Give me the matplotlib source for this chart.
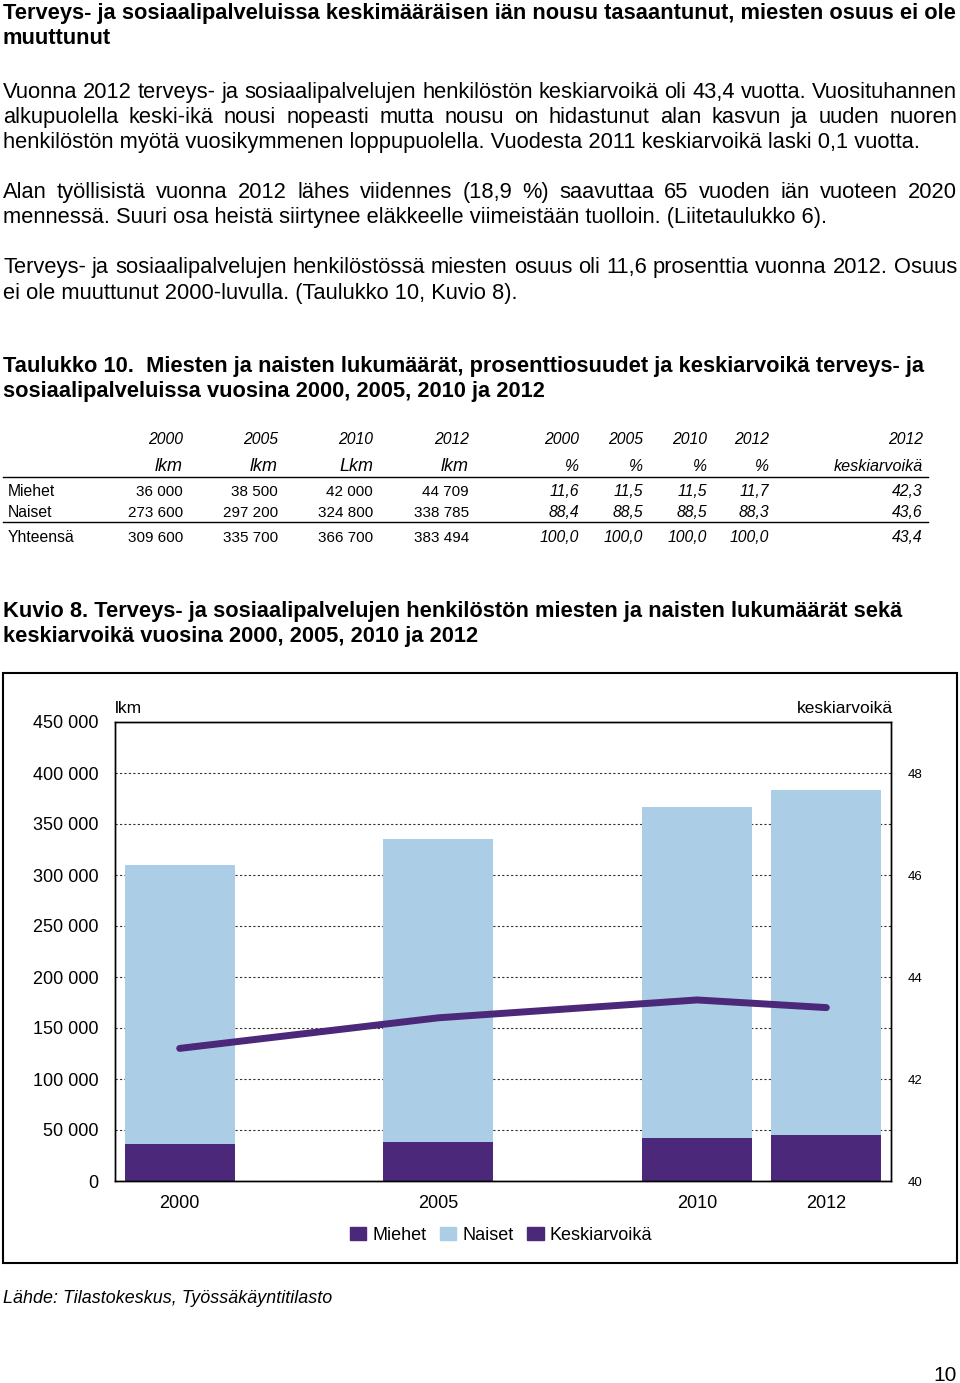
import matplotlib
matplotlib.use('Agg')
import matplotlib.pyplot as plt
import numpy as np
from matplotlib.patches import Patch, Rectangle
from matplotlib.lines import Line2D
from matplotlib.ticker import FuncFormatter

# ---------------- data ----------------
title_lines = ["Terveys- ja sosiaalipalveluissa keskimääräisen iän nousu tasaantunut, miesten osuus ei ole",
               "muuttunut"]
para1 = ["Vuonna 2012 terveys- ja sosiaalipalvelujen henkilöstön keskiarvoikä oli 43,4 vuotta. Vuosituhannen",
         "alkupuolella keski-ikä nousi nopeasti mutta nousu on hidastunut alan kasvun ja uuden nuoren",
         "henkilöstön myötä vuosikymmenen loppupuolella. Vuodesta 2011 keskiarvoikä laski 0,1 vuotta."]
para2 = ["Alan työllisistä vuonna 2012 lähes viidennes (18,9 %) saavuttaa 65 vuoden iän vuoteen 2020",
         "mennessä. Suuri osa heistä siirtynee eläkkeelle viimeistään tuolloin. (Liitetaulukko 6)."]
para3 = ["Terveys- ja sosiaalipalvelujen henkilöstössä miesten osuus oli 11,6 prosenttia vuonna 2012. Osuus",
         "ei ole muuttunut 2000-luvulla. (Taulukko 10, Kuvio 8)."]
table_title = ["Taulukko 10.  Miesten ja naisten lukumäärät, prosenttiosuudet ja keskiarvoikä terveys- ja",
               "sosiaalipalveluissa vuosina 2000, 2005, 2010 ja 2012"]
figure_title = ["Kuvio 8. Terveys- ja sosiaalipalvelujen henkilöstön miesten ja naisten lukumäärät sekä",
                "keskiarvoikä vuosina 2000, 2005, 2010 ja 2012"]
source_text = "Lähde: Tilastokeskus, Työssäkäyntitilasto"
page_number = "10"

table_years = ['2000', '2005', '2010', '2012']
lkm_units = ['lkm', 'lkm', 'Lkm', 'lkm']
row_labels = ['Miehet', 'Naiset', 'Yhteensä']
lkm_values = [[36000, 38500, 42000, 44709],
              [273600, 297200, 324800, 338785],
              [309600, 335700, 366700, 383494]]
pct_values = [[11.6, 11.5, 11.5, 11.7],
              [88.4, 88.5, 88.5, 88.3],
              [100.0, 100.0, 100.0, 100.0]]
age_year = '2012'
age_unit = 'keskiarvoikä'
age_2012 = [42.3, 43.6, 43.4]

# chart (category axis with empty slots, as in the original)
chart_categories = ['2000', '', '2005', '', '2010', '2012']
chart_men = [36000, None, 38500, None, 42000, 44709]
chart_women = [273600, None, 297200, None, 324800, 338785]
chart_age = [42.6, None, 43.2, None, 43.55, 43.4]
series_names = ['Miehet', 'Naiset', 'Keskiarvoikä']

# ---------------- setup ----------------
W, H = 960, 1383
plt.rcParams['font.family'] = ['Liberation Sans', 'DejaVu Sans']
fig = plt.figure(figsize=(W / 100, H / 100), dpi=100)
renderer = fig.canvas.get_renderer()

def fx(x): return x / W
def fy(y): return 1 - y / H

def put(x, y, s, ha='left', **kw):
    return fig.text(fx(x), fy(y), s, ha=ha, va='baseline', **kw)

def justify(x0, x1, y, s, **kw):
    words = s.split(' ')
    widths = []
    for w in words:
        t = fig.text(0, 0, w, **kw)
        widths.append(t.get_window_extent(renderer=renderer).width)
        t.remove()
    gap = (x1 - x0 - sum(widths)) / (len(words) - 1)
    x = x0
    for w, wd in zip(words, widths):
        put(x, y, w, **kw)
        x += wd + gap

def fmt_int(v):
    return f"{v:,}".replace(',', ' ')

def fmt_dec(v):
    return f"{v:.1f}".replace('.', ',')

BODY = 15.75
HEAD = 15.75
# titles
put(3, 19, title_lines[0], fontsize=HEAD, fontweight='bold')
put(3, 44, title_lines[1], fontsize=HEAD, fontweight='bold')
# paragraph 1
justify(3, 957, 98, para1[0], fontsize=BODY)
justify(3, 957, 123, para1[1], fontsize=BODY)
put(3, 148, para1[2], fontsize=BODY)
# paragraph 2
justify(3, 957, 198, para2[0], fontsize=BODY)
put(3, 223, para2[1], fontsize=BODY)
# paragraph 3
justify(3, 957, 273, para3[0], fontsize=BODY)
put(3, 299, para3[1], fontsize=BODY)
# table title
put(3, 372, table_title[0], fontsize=HEAD, fontweight='bold')
put(3, 397, table_title[1], fontsize=HEAD, fontweight='bold')

# ---------------- table ----------------
TF = 11
lkm_x = [183, 278, 373, 469]
pct_x = [579, 643, 707, 769]
age_x = 923
for i in range(4):
    put(lkm_x[i], 444, table_years[i], ha='right', fontsize=11.3, style='italic')
    put(lkm_x[i], 471, lkm_units[i], ha='right', fontsize=13, style='italic')
    put(pct_x[i], 444, table_years[i], ha='right', fontsize=11.3, style='italic')
    put(pct_x[i], 471, '%', ha='right', fontsize=11.3, style='italic')
put(age_x, 444, age_year, ha='right', fontsize=11.3, style='italic')
put(age_x, 471, age_unit, ha='right', fontsize=11.6, style='italic')

row_y = [496, 517, 542]
for r in range(3):
    put(8, row_y[r], row_labels[r], fontsize=11.3)
    for i in range(4):
        put(lkm_x[i], row_y[r], fmt_int(lkm_values[r][i]), ha='right', fontsize=TF)
        put(pct_x[i], row_y[r], fmt_dec(pct_values[r][i]), ha='right', fontsize=11.3, style='italic')
    put(age_x, row_y[r], fmt_dec(age_2012[r]), ha='right', fontsize=11.3, style='italic')

for yy in (477, 522):
    fig.add_artist(Line2D([fx(3), fx(928)], [fy(yy), fy(yy)], transform=fig.transFigure,
                          color='black', lw=1.0))

# figure title
put(3, 617, figure_title[0], fontsize=HEAD, fontweight='bold')
put(3, 642, figure_title[1], fontsize=HEAD, fontweight='bold')

# ---------------- chart ----------------
fig.add_artist(Rectangle((fx(3), fy(1263)), fx(957) - fx(3), fy(673) - fy(1263),
                         transform=fig.transFigure, fill=False, ec='black', lw=1.5))

MEN_C = '#4b2879'
WOMEN_C = '#abcde6'
LINE_C = '#4b2879'

ax = fig.add_axes([fx(115), fy(1181), (891 - 115) / W, (1181 - 722) / H])
bar_idx = [i for i, v in enumerate(chart_men) if v is not None]
men = np.array([chart_men[i] for i in bar_idx], dtype=float)
women = np.array([chart_women[i] for i in bar_idx], dtype=float)
ax.bar(bar_idx, men, width=0.85, color=MEN_C, zorder=2)
ax.bar(bar_idx, women, bottom=men, width=0.85, color=WOMEN_C, zorder=2)
ax.set_xlim(-0.5, len(chart_categories) - 0.5)
ax.set_ylim(0, 450000)
ax.set_yticks(np.arange(0, 450001, 50000))
ax.yaxis.set_major_formatter(FuncFormatter(lambda v, p: fmt_int(int(v))))
ax.set_xticks(bar_idx)
ax.set_xticklabels([chart_categories[i] for i in bar_idx])
ax.tick_params(axis='both', length=0, labelsize=13)
ax.tick_params(axis='y', pad=12)
ax.tick_params(axis='x', pad=10)
ax.yaxis.grid(True, linestyle=(0, (2, 2)), color='#333333', lw=0.8)
ax.set_axisbelow(True)
for sp in ax.spines.values():
    sp.set_color('black')
    sp.set_linewidth(1.0)

ax2 = ax.twinx()
age_idx = [i for i, v in enumerate(chart_age) if v is not None]
ax2.plot(age_idx, [chart_age[i] for i in age_idx], color=LINE_C, lw=5,
         solid_capstyle='round', solid_joinstyle='round', zorder=3)
ax2.set_ylim(40, 49)
ax2.set_yticks([40, 42, 44, 46, 48])
ax2.tick_params(axis='y', length=0, labelsize=9.5, pad=12)
for sp in ax2.spines.values():
    sp.set_color('black')
    sp.set_linewidth(1.0)

put(115, 713, 'lkm', fontsize=12.5)
put(893, 713, 'keskiarvoikä', ha='right', fontsize=12.5)

handles = [Patch(color=MEN_C), Patch(color=WOMEN_C), Patch(color=LINE_C)]
fig.legend(handles, series_names, loc='center', bbox_to_anchor=(fx(501), fy(1235)),
           bbox_transform=fig.transFigure, ncol=3, frameon=False, fontsize=13,
           handlelength=0.9, handleheight=0.75, handletextpad=0.35, columnspacing=0.75)

# footer
put(3, 1303, source_text, fontsize=12.9, style='italic')
put(957, 1381, page_number, ha='right', fontsize=15)

fig.savefig('out.png', dpi=100)
